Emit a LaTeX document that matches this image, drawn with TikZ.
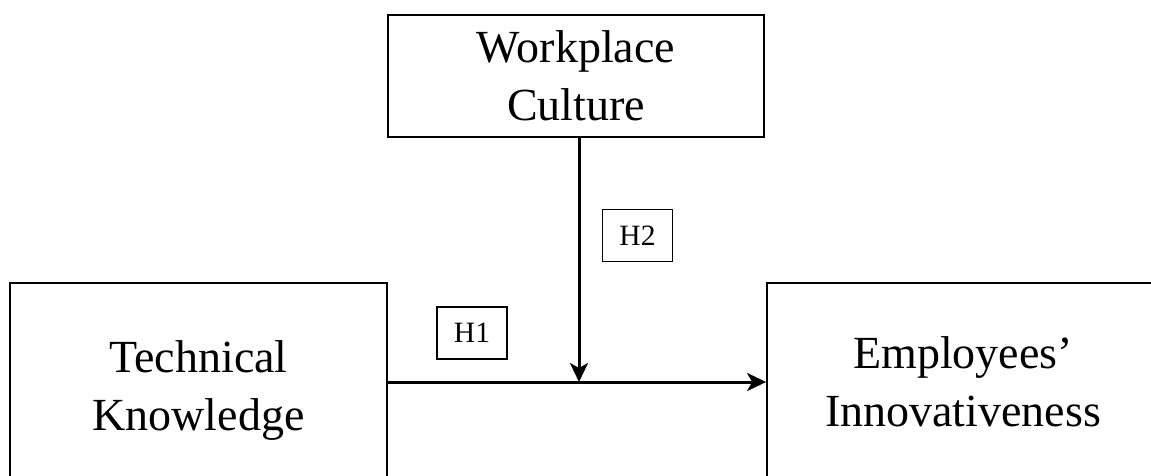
\documentclass[tikz,border=0pt]{standalone}
\usepackage{fontspec}
\setmainfont{Liberation Serif}
\usetikzlibrary{arrows.meta}
\begin{document}
\begin{tikzpicture}[x=1pt,y=-1pt,
  bigbox/.style={draw=black,line width=1.8pt,inner sep=0pt,align=center,
    font=\fontsize{46}{58}\selectfont},
  hbox/.style={draw=black,line width=1.5pt,inner sep=0pt,minimum width=70pt,
    minimum height=52pt,font=\fontsize{29.5}{30}\selectfont},
  arr/.style={line width=3pt,-{Stealth[length=19pt,width=18pt,inset=5pt]}}]
\useasboundingbox (0,0) rectangle (1151,475);
\clip (0,0) rectangle (1151,475);
\fill[white] (0,0) rectangle (1151,475);
\node[bigbox,minimum width=376pt,minimum height=122pt] (wc) at (576,76) {Workplace\\Culture};
\node[bigbox,minimum width=377pt,minimum height=214pt] (tk) at (198.5,390) {Technical\\Knowledge};
\node[bigbox,minimum width=392pt,minimum height=198pt] (ei) at (963,382) {Employees'\\Innovativeness};
\node[hbox] (h2) at (637.5,235.5) {H2};
\node[hbox] (h1) at (472,333) {H1};
\coordinate (j) at (579,382);
\draw[arr] (tk.east |- j) -- (ei.west |- j);
\draw[arr] (wc.south -| j) -- (j);
\end{tikzpicture}
\end{document}
